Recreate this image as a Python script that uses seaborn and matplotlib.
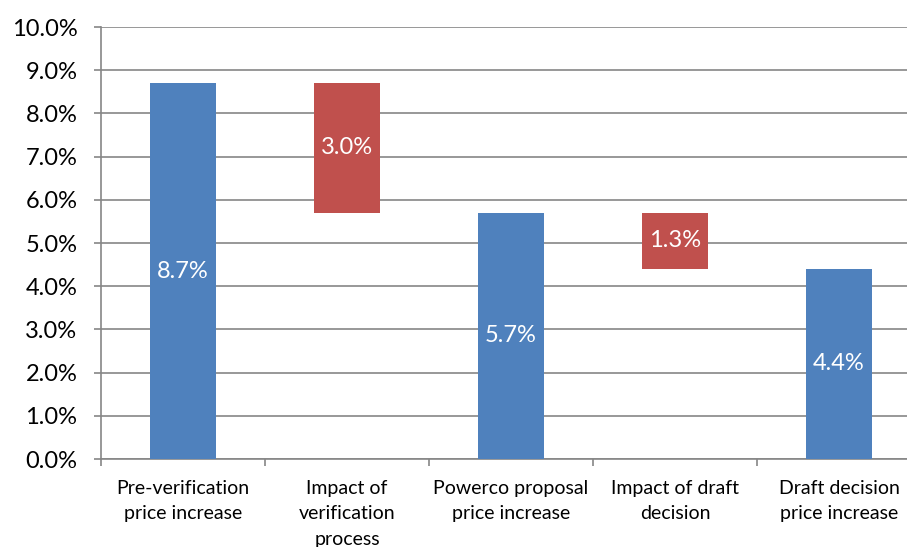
import matplotlib
matplotlib.use("Agg")
import matplotlib.pyplot as plt
import seaborn as sns
import numpy as np
import pandas as pd
from matplotlib.ticker import FixedLocator, PercentFormatter

categories = [
    "Pre-verification\nprice increase",
    "Impact of\nverification\nprocess",
    "Powerco proposal\nprice increase",
    "Impact of draft\ndecision",
    "Draft decision\nprice increase",
]
changes = [8.7, -3.0, 5.7, -1.3, 4.4]
kinds = ["total", "step", "total", "step", "total"]
labels = ["8.7%", "3.0%", "5.7%", "1.3%", "4.4%"]

BLUE = "#4F81BD"
RED = "#C0504D"
GRID = "#868686"

sns.set_theme(style="white")
plt.rcParams["font.family"] = ["Lato", "DejaVu Sans"]

# waterfall geometry: totals stand on zero, steps float below the previous total
bottoms, heights = [], []
running = 0.0
for v, k in zip(changes, kinds):
    if k == "total":
        bottoms.append(0.0)
        heights.append(v)
        running = v
    else:
        top = running
        running = running + v
        bottoms.append(running)
        heights.append(top - running)

df = pd.DataFrame({"category": categories, "height": heights, "bottom": bottoms, "kind": kinds})

fig = plt.figure(figsize=(9.07, 5.47), dpi=100)
ax = fig.add_axes([101 / 907, 1 - 459 / 547, 820 / 907, 432 / 547])

totals = df.where(df["kind"] == "total")
sns.barplot(data=df.assign(height=totals["height"]), x="category", y="height",
            color=BLUE, saturation=1, width=0.4, ax=ax, zorder=3, linewidth=0)

steps = df[df["kind"] == "step"]
ax.bar(steps.index, steps["height"], bottom=steps["bottom"], width=0.4,
       color=RED, linewidth=0, zorder=3)

for i, row in df.iterrows():
    ax.text(i, row["bottom"] + row["height"] / 2, labels[i], ha="center", va="center",
            color="white", fontsize=17, zorder=4)

ax.set_xlim(-0.5, 4.5)
ax.set_ylim(0, 10)
ax.yaxis.set_major_locator(FixedLocator(np.arange(0, 10.01, 1)))
ax.yaxis.set_major_formatter(PercentFormatter(decimals=1))
ax.grid(axis="y", color=GRID, linewidth=1.2, zorder=0)
ax.set_axisbelow(True)
ax.set_xlabel("")
ax.set_ylabel("")

for s in ["top", "right"]:
    ax.spines[s].set_visible(False)
for s in ["left", "bottom"]:
    ax.spines[s].set_color(GRID)
    ax.spines[s].set_linewidth(1.2)

ax.tick_params(axis="y", which="major", left=True, length=5, width=1.2, color=GRID,
               pad=12, labelsize=17, labelcolor="black")
ax.tick_params(axis="x", which="major", bottom=False, pad=9, labelsize=14, labelcolor="black")
ax.xaxis.set_minor_locator(FixedLocator(np.arange(-0.5, 5, 1)))
ax.tick_params(axis="x", which="minor", bottom=True, length=5, width=1.2, color=GRID)
for t in ax.get_xticklabels():
    t.set_linespacing(1.6)
    t.set_va("top")

fig.savefig("out.png", dpi=100)
